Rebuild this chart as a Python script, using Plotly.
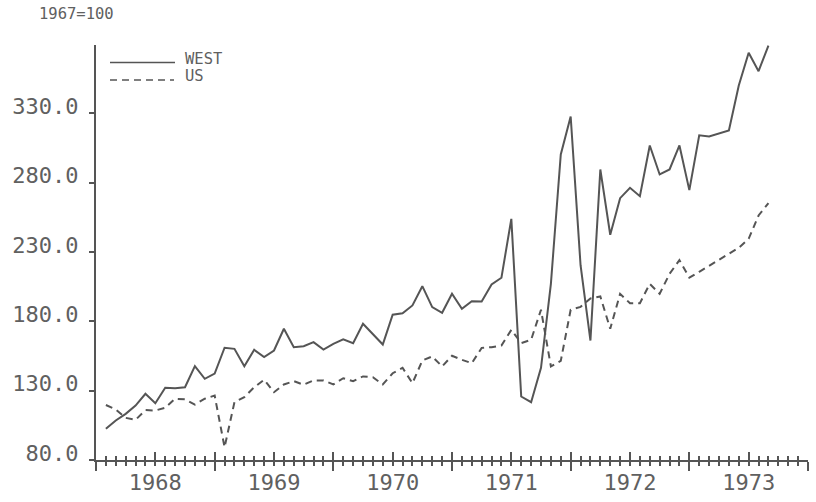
import plotly.graph_objects as go

# ---- data (monthly, Feb 1968 .. Sep 1973), index 1967=100 ----
first_year = 1968
first_month = 2
west = [102.5, 108.5, 113.3, 119.3, 127.8, 121.0, 132.1, 131.8, 132.5, 147.7, 138.6, 142.4,
        161.0, 160.2, 147.7, 159.5, 154.2, 159.0, 174.7, 161.4, 162.1, 165.0, 159.7, 163.8,
        167.0, 164.3, 178.3, 170.8, 163.3, 184.8, 185.9, 191.5, 205.4, 190.3, 186.2, 199.9,
        189.1, 194.6, 194.4, 206.6, 211.5, 254.0, 125.8, 121.7, 146.5, 207.1, 300.4, 327.8,
        220.5, 166.2, 289.6, 242.5, 268.9, 276.4, 270.3, 306.9, 286.0, 289.6, 306.9, 274.7,
        314.3, 313.4, 315.4, 317.7, 350.2, 373.8, 360.5, 379.0]
us = [119.7, 116.5, 110.4, 109.0, 116.0, 115.7, 117.7, 124.2, 123.8, 120.0, 124.2, 126.5,
      89.2, 121.7, 125.3, 132.5, 137.9, 128.9, 134.5, 136.9, 134.3, 137.4, 137.4, 134.5,
      139.0, 136.9, 140.3, 139.7, 134.5, 142.6, 146.5, 135.4, 151.8, 154.7, 147.5, 155.2,
      152.3, 149.8, 160.9, 161.4, 162.6, 173.9, 164.3, 166.7, 188.4, 147.5, 151.5, 188.4,
      190.5, 196.6, 198.0, 174.7, 199.9, 193.1, 193.1, 207.1, 199.9, 214.3, 224.2, 211.5,
      215.8, 220.3, 224.4, 228.8, 233.1, 239.6, 256.4, 265.3]
year_labels = ["1968", "1969", "1970", "1971", "1972", "1973"]
y_ticks = [80, 130, 180, 230, 280, 330]
y_tick_labels = ["80.0", "130.0", "180.0", "230.0", "280.0", "330.0"]
series_names = ["WEST", "US"]
base_note = "1967=100"

# time positions (decimal years)
x = [first_year + (first_month - 1 + i) / 12 for i in range(len(west))]
years = [int(s) for s in year_labels] + [int(year_labels[-1]) + 1]
mid_years = [int(s) + 0.5 for s in year_labels]

INK = "#555555"
TXT = "#606060"
FONT = "DejaVu Sans Mono"

fig = go.Figure()
fig.add_trace(go.Scatter(x=x, y=west, mode="lines", name=series_names[0],
                         line=dict(color=INK, width=2), showlegend=False))
fig.add_trace(go.Scatter(x=x, y=us, mode="lines", name=series_names[1],
                         line=dict(color=INK, width=2, dash="7px,5px"), showlegend=False))
# empty traces to activate the overlay axes
fig.add_trace(go.Scatter(x=[], y=[], xaxis="x2", showlegend=False, hoverinfo="skip"))
fig.add_trace(go.Scatter(x=[], y=[], xaxis="x3", showlegend=False, hoverinfo="skip"))

xr = [years[0], years[-1]]
W, H = 816, 502
ml, mr, mt, mb = 96, 8, 45, 42

fig.update_layout(
    width=W, height=H,
    margin=dict(l=ml, r=mr, t=mt, b=mb, autoexpand=False),
    paper_bgcolor="white", plot_bgcolor="white",
    font=dict(family=FONT, color=TXT),
    xaxis=dict(range=xr, showline=True, linecolor=INK, linewidth=2, automargin=False,
               ticks="outside", tickvals=years, ticklen=9, tickwidth=2, tickcolor=INK,
               showticklabels=False, showgrid=False, zeroline=False,
               minor=dict(tick0=years[0], dtick=1 / 12, ticks="outside", ticklen=4,
                          tickwidth=1.5, tickcolor=INK, showgrid=False)),
    xaxis2=dict(range=xr, overlaying="x", anchor="y", side="bottom", showline=False,
                automargin=False,
                ticks="inside", tickvals=years + mid_years, ticklen=8, tickwidth=2,
                tickcolor=INK, showticklabels=False, showgrid=False, zeroline=False,
                minor=dict(tick0=years[0], dtick=1 / 12, ticks="inside", ticklen=4,
                           tickwidth=1.5, tickcolor=INK, showgrid=False)),
    xaxis3=dict(range=xr, overlaying="x", anchor="y", side="bottom", showline=False,
                automargin=False,
                ticks="", tickvals=mid_years, ticktext=year_labels,
                tickfont=dict(family=FONT, size=22, color=TXT),
                ticklabelstandoff=7, showgrid=False, zeroline=False),
    yaxis=dict(range=[80, 379.4], showline=True, linecolor=INK, linewidth=2, automargin=False,
               ticks="outside", tickvals=y_ticks, ticktext=y_tick_labels, ticklen=5,
               tickwidth=2, tickcolor=INK, tickfont=dict(family=FONT, size=22, color=TXT),
               ticklabelshift=-7, ticklabelstandoff=6, showgrid=False, zeroline=False),
)

pw, ph = W - ml - mr, H - mt - mb


def px_x(p):
    return (p - ml) / pw


def px_y(p):
    return (H - mb - p) / ph


# manual legend
fig.add_shape(type="line", xref="paper", yref="paper",
              x0=px_x(110), x1=px_x(175), y0=px_y(62.5), y1=px_y(62.5),
              line=dict(color=INK, width=1.5))
fig.add_shape(type="line", xref="paper", yref="paper",
              x0=px_x(110), x1=px_x(174), y0=px_y(80), y1=px_y(80),
              line=dict(color=INK, width=1.5, dash="7px,5px"))
fig.add_annotation(text=series_names[0], xref="paper", yref="paper",
                   x=px_x(183), y=px_y(59), xanchor="left", yanchor="middle",
                   showarrow=False, font=dict(family=FONT, size=15.5, color=TXT))
fig.add_annotation(text=series_names[1], xref="paper", yref="paper",
                   x=px_x(183), y=px_y(76), xanchor="left", yanchor="middle",
                   showarrow=False, font=dict(family=FONT, size=15.5, color=TXT))
fig.add_annotation(text=base_note, xref="paper", yref="paper",
                   x=px_x(37), y=px_y(14), xanchor="left", yanchor="middle",
                   showarrow=False, font=dict(family=FONT, size=15.5, color=TXT))

fig.write_html("out.html", config={"displayModeBar": False},
               post_script="document.body.style.margin='0';")
